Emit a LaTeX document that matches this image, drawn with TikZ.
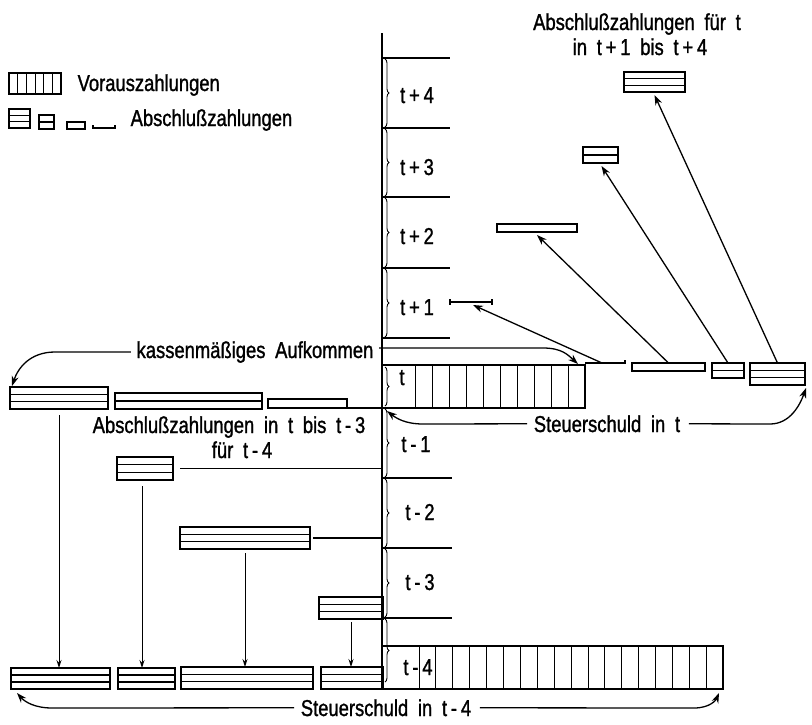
\documentclass[tikz,border=0pt]{standalone}
\usepackage{fontspec}
\setmainfont{Liberation Sans}[FakeStretch=0.8,WordSpace=1.9,FakeBold=1.2]
\usetikzlibrary{arrows.meta,calc,decorations.pathreplacing}
\begin{document}
\begin{tikzpicture}[x=1pt,y=-1pt,line width=1.3pt,
  txt/.style={font=\fontsize{23}{27}\selectfont, inner sep=0pt, anchor=base},
  pay/.style={draw, line width=1.3pt, inner sep=0pt, outer sep=0pt, anchor=north west},
  band2/.style={pay, path picture={\draw[line width=1.2pt] (path picture bounding box.west) -- (path picture bounding box.east);}},
  band3/.style={pay, path picture={\draw[line width=1.2pt]
      ($(path picture bounding box.north west)!0.33!(path picture bounding box.south west)$) -- ($(path picture bounding box.north east)!0.33!(path picture bounding box.south east)$)
      ($(path picture bounding box.north west)!0.67!(path picture bounding box.south west)$) -- ($(path picture bounding box.north east)!0.67!(path picture bounding box.south east)$);}},
  tickbar/.style={inner sep=0pt, outer sep=0pt, minimum height=6pt},
  brc/.style={decorate, decoration={brace, amplitude=4pt}, line width=0.9pt},
  divl/.style={line width=1pt},
  arr/.style={-{Stealth[length=10pt,width=7pt]}, line width=1.3pt},
  varr/.style={-{Stealth[length=8pt,width=5pt]}, line width=1pt}]

\useasboundingbox (0,0) rectangle (812,724);

% legend
\node[pay, minimum width=52pt, minimum height=21pt] (LV) at (9,73) {};
\foreach \x in {17.7,26.3,35,43.7,52.3} \draw[divl] (\x,73) -- (\x,94);
\node[txt, anchor=base west] (LVt) at (77,91) {Vorauszahlungen};
\node[band3, minimum width=21pt, minimum height=19pt] (L3) at (9,109) {};
\node[band2, minimum width=15pt, minimum height=14pt] (L2) at (39,115) {};
\node[pay, minimum width=18pt, minimum height=7pt] (L1) at (67,122) {};
\node[tickbar, minimum width=22pt, anchor=west] (L0) at (93,128) {};
\draw ($(L0.west)+(0,-3)$) -- (L0.west) -- (L0.east) -- ($(L0.east)+(0,-3)$);
\node[txt, anchor=base west] (LAt) at (130,126) {Abschlußzahlungen};

% title
\node[txt] (T1) at (637,30) {Abschlußzahlungen für t};
\node[txt] (T2) at (640,55) {in t\,+\,1 bis t\,+\,4};

% axis
\coordinate (axT) at (382,33);
\coordinate (axB) at (382,689);
\draw (axT) -- (axB);
\foreach \y in {58,128,197,268,338} \draw (382,\y) -- (450,\y);
\foreach \y in {478,548,618} \draw (382,\y) -- (452,\y);
\foreach \a/\b in {58/128,128/197,197/268,268/338,366/407,408/478,478/548,548/618,618/683}
  \draw[brc] (385,\a+1) -- (385,\b-1);

% period labels
\node[txt] (lp4) at (417,103) {t\,+\,4};
\node[txt] (lp3) at (417,175) {t\,+\,3};
\node[txt] (lp2) at (417,244) {t\,+\,2};
\node[txt] (lp1) at (417,315) {t\,+\,1};
\node[txt] (l0) at (402,385) {t};
\node[txt] (lm1) at (416,452) {t\,-\,1};
\node[txt] (lm2) at (420,520) {t\,-\,2};
\node[txt] (lm3) at (420,590) {t\,-\,3};

% Vorauszahlungen t
\node[pay, minimum width=203pt, minimum height=43pt] (V) at (382,365) {};
\foreach \k in {0,...,9} \draw[divl] ({415+17*\k},365) -- ({415+17*\k},408);
% Vorauszahlungen t-4
\node[pay, minimum width=341pt, minimum height=43pt] (W) at (382,646) {};
\foreach \k in {0,...,17} \draw[divl] ({419+16.9*\k},646) -- ({419+16.9*\k},689);
\node[txt] (lm4) at (418,675) {t\,-\,4};

% Abschlusszahlungen fuer t (row)
\node[tickbar, minimum width=40pt, anchor=west] (R0) at (585,363) {};
\draw (R0.west) -- (R0.east) -- ($(R0.east)+(0,-3)$);
\node[pay, minimum width=73pt, minimum height=8pt] (R1) at (632,363) {};
\node[band2, minimum width=32pt, minimum height=15pt] (R2) at (712,363) {};
\node[band3, minimum width=55pt, minimum height=22pt] (R3) at (750,363) {};

% displays t+1 .. t+4
\node[tickbar, minimum width=42pt] (D1) at (471,302) {};
\draw (D1.north west) -- (D1.south west) (D1.west) -- (D1.east) (D1.north east) -- (D1.south east);
\node[pay, minimum width=80pt, minimum height=8pt] (D2) at (497,224) {};
\node[band2, minimum width=35pt, minimum height=16pt] (D3) at (583,147) {};
\node[band3, minimum width=61pt, minimum height=20pt] (D4) at (624,72) {};

\draw[arr] ($(R0.center)+(-3,0)$) -- ($(D1.center)+(2,3)$);
\draw[arr] (R1.north) -- ($(D2.south)+(0,3)$);
\draw[arr] (R2.north) -- ($(D3.south)+(1,3)$);
\draw[arr] (R3.north) -- ($(D4.south)+(0,3)$);

% left row in t
\node[band3, minimum width=98pt, minimum height=22pt] (A) at (10,387) {};
\node[band2, minimum width=147pt, minimum height=16pt] (B) at (115,393) {};
\node[pay, minimum width=79pt, minimum height=9pt] (C) at (268,399) {};
\draw (C.south east) -- (V.south west);

% Abschlusszahlungen fuer t-4
\node[band3, minimum width=56pt, minimum height=23pt] (P1) at (117,457) {};
\node[band3, minimum width=130pt, minimum height=22pt] (P2) at (180,527) {};
\node[band3, minimum width=64pt, minimum height=22pt] (P3) at (319,597) {};
\draw ($(P1.east)+(7,0)$) -- (P1.east -| V.west);
\draw ($(P2.east)+(3,0)$) -- (P2.east -| V.west);

\node[band3, minimum width=99pt, minimum height=21pt] (Q1) at (11,668) {};
\node[band3, minimum width=57pt, minimum height=21pt] (Q2) at (118,668) {};
\node[band3, minimum width=132pt, minimum height=22pt] (Q3) at (181,667) {};
\node[band3, minimum width=62pt, minimum height=22pt] (Q4) at (321,667) {};

\draw[varr] ($(A.south)+(0,6)$) -- (A.south |- Q1.north);
\draw[varr] ($(P1.south)+(-3,6)$) -- ($(P1.south |- Q2.north)+(-3,0)$);
\draw[varr] ($(P2.south)+(0,4)$) -- (P2.south |- Q3.north);
\draw[varr] ($(P3.south)+(0,3)$) -- (P3.south |- Q4.north);

% texts and curved arrows
\node[txt] (K) at (255,358) {kassenmäßiges Aufkommen};
\draw[arr] ($(K.west)+(-5,0)$) -- (55,352) .. controls (30,352) and (18,368) .. ($(A.north west)+(2,-1)$);
\draw[arr] ($(K.east)+(5,-4)$) -- (543,348) .. controls (562,348) and (568,355) .. ($(V.north east)+(-7,-1)$);

\node[txt] (AZ) at (229,433) {Abschlußzahlungen in t bis t\,-\,3};
\node[txt] (AZ2) at (242,458) {für t\,-\,4};

\node[txt] (S) at (607,432) {Steuerschuld in t};
\draw[arr] ($(S.west)+(-6,0)$) -- (423,424) .. controls (405,424) and (396,418) .. ($(V.south west)+(5,3)$);
\draw[arr] ($(S.east)+(8,0)$) -- (770,424) .. controls (790,424) and (800,405) .. ($(R3.south east)+(1,3)$);

\node[txt] (S4) at (386,716) {Steuerschuld in t\,-\,4};
\draw[arr] ($(S4.west)+(-6,0)$) -- (52,708) .. controls (35,708) and (25,702) .. ($(Q1.south west)+(6,4)$);
\draw[arr] ($(S4.east)+(8,0)$) -- (694,708) .. controls (710,708) and (716,700) .. ($(W.south east)+(-4,4)$);
\end{tikzpicture}
\end{document}
